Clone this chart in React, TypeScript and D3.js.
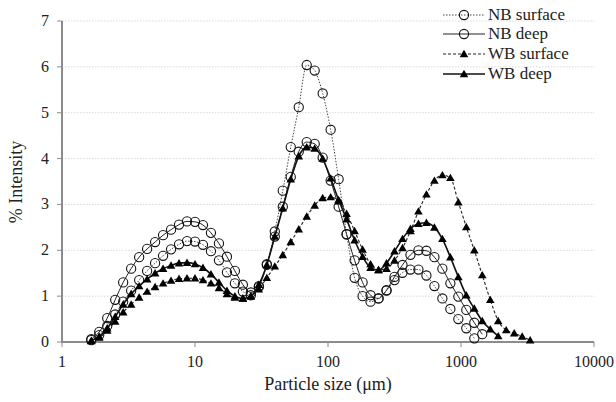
import * as d3 from 'd3'

// size classes (µm)
const sizes = [
  1.66, 1.905, 2.188, 2.512, 2.884, 3.311, 3.802, 4.365, 5.012, 5.754,
  6.607, 7.586, 8.71, 10.0, 11.48, 13.18, 15.14, 17.38, 19.95, 22.91,
  26.3, 30.2, 34.67, 39.81, 45.71, 52.48, 60.26, 69.18, 79.43, 91.2,
  104.7, 120.2, 138.0, 158.5, 182.0, 208.9, 239.9, 275.4, 316.2, 363.1,
  416.9, 478.6, 549.5, 631.0, 724.4, 831.8, 955.0, 1096, 1259, 1445,
  1660, 1905, 2188, 2512, 2884, 3311,
]

const nbSurface = [
  0.04, 0.15, 0.35, 0.6, 0.88, 1.12, 1.35, 1.55, 1.72, 1.88,
  2.02, 2.13, 2.2, 2.19, 2.12, 1.98, 1.78, 1.52, 1.28, 1.1,
  1.02, 1.2, 1.68, 2.41, 3.3, 4.25, 5.12, 6.04, 5.92, 5.42,
  4.63, 3.55, 2.35, 1.4, 1.0, 0.88, 0.95, 1.12, 1.35, 1.51,
  1.58, 1.58, 1.45, 1.22, 0.95, 0.72, 0.5, 0.3, 0.08, null,
  null, null, null, null, null, null,
]

const nbDeep = [
  0.06, 0.22, 0.52, 0.92, 1.3, 1.6, 1.85, 2.03, 2.18, 2.33,
  2.45, 2.56, 2.63, 2.62, 2.55, 2.38, 2.15, 1.86, 1.55, 1.25,
  1.08, 1.22, 1.7, 2.3, 2.95, 3.6, 4.15, 4.36, 4.32, 4.02,
  3.52, 2.95, 2.35, 1.78, 1.3, 1.02, 0.95, 1.13, 1.42, 1.68,
  1.9, 2.0, 1.99, 1.85, 1.6, 1.28, 0.99, 0.7, 0.42, 0.17,
  null, null, null, null, null, null,
]

const wbSurface = [
  0.02, 0.1, 0.25, 0.45, 0.65, 0.82, 0.97, 1.1, 1.2, 1.28,
  1.34, 1.38, 1.39, 1.39, 1.35, 1.28, 1.18, 1.05, 0.97, 0.95,
  1.0, 1.15, 1.4, 1.65, 1.9, 2.18, 2.46, 2.74, 2.98, 3.14,
  3.16, 3.07, 2.8, 2.42, 2.02, 1.7, 1.57, 1.6, 1.78, 2.05,
  2.42, 2.85, 3.22, 3.52, 3.64, 3.58, 3.05, 2.51, 2.0, 1.46,
  0.92, 0.46, 0.26, 0.19, 0.12, 0.04,
]

const wbDeep = [
  0.03, 0.12, 0.3, 0.55, 0.82, 1.05, 1.22, 1.37, 1.5, 1.6,
  1.67, 1.72, 1.73, 1.7, 1.62, 1.48, 1.3, 1.12, 1.0, 0.95,
  1.0, 1.25, 1.68, 2.3, 2.92, 3.55, 4.05, 4.25, 4.22, 4.0,
  3.57, 3.1, 2.68, 2.22, 1.86, 1.62, 1.57, 1.72, 1.98, 2.25,
  2.47, 2.58, 2.6, 2.5, 2.25, 1.85, 1.42, 1.02, 0.73, 0.46,
  0.28, 0.13, null, null, null, null,
]

const seriesNames = ['NB surface', 'NB deep', 'WB surface', 'WB deep']
const xTicks = [1, 10, 100, 1000, 10000]
const yTicks = [0, 1, 2, 3, 4, 5, 6, 7]

const W = 616
const H = 402
const FONT = "'Liberation Serif', 'Times New Roman', 'DejaVu Serif', serif"

const styles = [
  { values: nbSurface, marker: 'circle', dash: '1.5,1.5', width: 0.9, color: '#333' },
  { values: nbDeep, marker: 'circle', dash: null, width: 1, color: '#222' },
  { values: wbSurface, marker: 'triangle', dash: '3,2', width: 1.1, color: '#222' },
  { values: wbDeep, marker: 'triangle', dash: null, width: 1.6, color: '#111' },
]

const tri = d3.symbol().type(d3.symbolTriangle).size(32)()

function Marker({ kind, x, y }: { kind: string; x: number; y: number }) {
  if (kind === 'circle') {
    return <circle cx={x} cy={y} r={4.6} fill="none" stroke="#111" strokeWidth={1.1} />
  }
  return <path d={tri as string} transform={`translate(${x},${y + 0.8})`} fill="#000" />
}

const txt = { fontFamily: FONT, fill: '#222' }

export default function App() {
  const x = d3.scaleLog().domain([1, 10000]).range([62, 594])
  const y = d3.scaleLinear().domain([0, 7]).range([342, 21])

  const line = d3
    .line<[number, number | null]>()
    .defined((d) => d[1] != null)
    .x((d) => x(d[0]))
    .y((d) => y(d[1] as number))
    .curve(d3.curveMonotoneX)

  const legendY = [15, 34, 54, 74]

  return (
    <svg width={W} height={H} style={{ position: 'absolute', left: 0, top: 0, background: '#fff' }}>
      {/* gridlines */}
      {yTicks.slice(1).map((t) => (
        <line key={'g' + t} x1={62} x2={594} y1={y(t)} y2={y(t)} stroke="#cfcfcf" strokeWidth={0.8} strokeDasharray="1.5,1.5" />
      ))}

      {/* axes */}
      <line x1={62} x2={62} y1={y(7)} y2={y(0)} stroke="#8c8c8c" strokeWidth={2} />
      <line x1={61} x2={594} y1={y(0)} y2={y(0)} stroke="#8c8c8c" strokeWidth={2} />
      {yTicks.map((t) => (
        <g key={'y' + t}>
          <line x1={57} x2={62} y1={y(t)} y2={y(t)} stroke="#8c8c8c" strokeWidth={1} />
          <text x={49} y={y(t) + 5} textAnchor="end" fontSize={16} style={txt}>{t}</text>
        </g>
      ))}
      {xTicks.map((t) => (
        <g key={'x' + t}>
          <line x1={x(t)} x2={x(t)} y1={y(0)} y2={y(0) + 5} stroke="#8c8c8c" strokeWidth={1} />
          <text x={x(t)} y={367} textAnchor="middle" fontSize={16} style={txt}>{t}</text>
        </g>
      ))}

      <text x={328} y={390} textAnchor="middle" fontSize={18} style={txt}>Particle size (μm)</text>
      <text transform={`translate(22,182) rotate(-90)`} textAnchor="middle" fontSize={18} style={txt}>% Intensity</text>

      {/* series */}
      {styles.map((s, si) => {
        const pts: [number, number | null][] = sizes.map((d, i) => [d, s.values[i]])
        return (
          <g key={'s' + si}>
            <path d={line(pts) as string} fill="none" stroke={s.color} strokeWidth={s.width} strokeDasharray={s.dash ?? undefined} />
            {pts.filter((p) => p[1] != null).map((p, i) => (
              <Marker key={i} kind={s.marker} x={x(p[0])} y={y(p[1] as number)} />
            ))}
          </g>
        )
      })}

      {/* legend */}
      {styles.map((s, si) => (
        <g key={'l' + si}>
          <line x1={443} x2={485} y1={legendY[si]} y2={legendY[si]} stroke={s.color} strokeWidth={s.width} strokeDasharray={s.dash ?? undefined} />
          <Marker kind={s.marker} x={464} y={legendY[si]} />
          <text x={488} y={legendY[si] + 5} fontSize={17} style={txt}>{seriesNames[si]}</text>
        </g>
      ))}
    </svg>
  )
}
